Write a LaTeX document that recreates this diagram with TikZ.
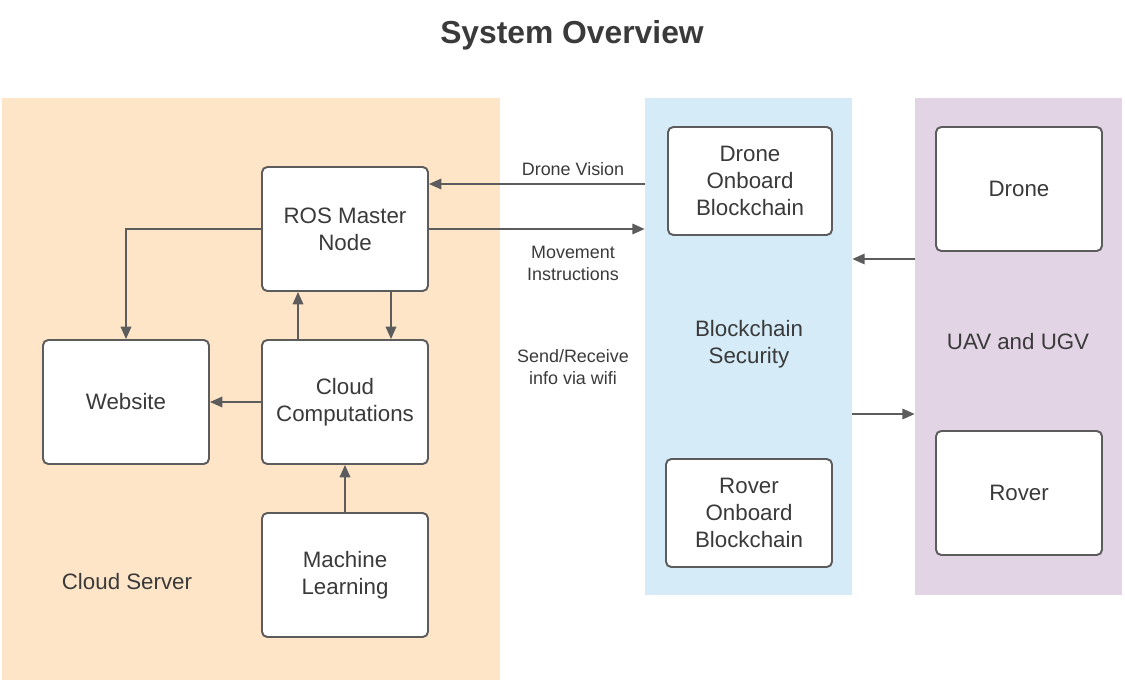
\documentclass[tikz,border=0pt]{standalone}
\usepackage{fontspec}
\setmainfont{Liberation Sans}
\usepackage{xcolor}
\usetikzlibrary{arrows.meta}

\definecolor{serverbg}{HTML}{FFE5C8}
\definecolor{securebg}{HTML}{D5EBF8}
\definecolor{vehiclebg}{HTML}{E2D3E5}
\definecolor{linegray}{HTML}{5C5C5C}
\definecolor{textgray}{HTML}{3A3A3A}

\begin{document}
\begin{tikzpicture}[
    box/.style={draw=linegray, line width=1.1pt, rounded corners=3pt, fill=white,
        align=center, text=textgray, font=\fontsize{12.7}{15.3}\selectfont},
    band/.style={draw=none, inner sep=0pt},
    lbl/.style={align=center, text=textgray, font=\fontsize{12.7}{15.3}\selectfont},
    small/.style={align=center, text=textgray, font=\fontsize{10.2}{12.5}\selectfont},
    arr/.style={draw=linegray, line width=0.9pt, -{Triangle[length=7pt,width=6pt]}}
]
    \useasboundingbox (0,0) rectangle (22.5,-13.6);

    % background areas
    \node[band, fill=serverbg, minimum width=99.6mm, minimum height=116.4mm] (server) at (5.02,-7.78) {};
    \node[band, fill=securebg, minimum width=41.4mm, minimum height=99.4mm] (secure) at (14.97,-6.93) {};
    \node[band, fill=vehiclebg, minimum width=41.4mm, minimum height=99.4mm] (vehicles) at (20.37,-6.93) {};

    \node[text=textgray, font=\fontsize{18.1}{20}\selectfont\bfseries] (title) at (11.44,-0.70) {System Overview};

    % cloud server side
    \node[box, minimum width=33.2mm, minimum height=24.8mm] (ros) at (6.9,-4.58) {ROS Master\\Node};
    \node[box, minimum width=33.2mm, minimum height=24.8mm] (website) at (2.52,-8.04) {Website};
    \node[box, minimum width=33.2mm, minimum height=24.8mm] (cloud) at (6.9,-8.04) {Cloud\\Computations};
    \node[box, minimum width=33.2mm, minimum height=24.8mm] (ml) at (6.9,-11.5) {Machine\\Learning};
    \node[lbl] (serverlbl) at (2.54,-11.64) {Cloud Server};

    % blockchain
    \node[box, minimum width=32.8mm, minimum height=21.6mm] (dronechain) at (15.0,-3.62) {Drone\\Onboard\\Blockchain};
    \node[box, minimum width=33.2mm, minimum height=21.6mm] (roverchain) at (14.98,-10.26) {Rover\\Onboard\\Blockchain};
    \node[lbl] (securelbl) at (14.98,-6.88) {Blockchain\\Security};

    % vehicles
    \node[box, minimum width=33.2mm, minimum height=24.8mm] (drone) at (20.38,-3.78) {Drone};
    \node[box, minimum width=33.2mm, minimum height=24.8mm] (rover) at (20.38,-9.86) {Rover};
    \node[lbl] (vehiclelbl) at (20.36,-6.84) {UAV and UGV};

    % link labels
    \node[small] (visionlbl) at (11.46,-3.38) {Drone Vision};
    \node[small] (movelbl) at (11.46,-5.26) {Movement\\Instructions};
    \node[small] (wifilbl) at (11.46,-7.34) {Send/Receive\\info via wifi};

    \coordinate (visionin) at (secure.west |- 0,-3.68);
    \coordinate (upin) at (vehicles.west |- 0,-5.18);
    \coordinate (upout) at (secure.east |- 0,-5.18);
    \coordinate (downin) at (secure.east |- 0,-8.28);
    \coordinate (downout) at (vehicles.west |- 0,-8.28);

    \draw[arr] (visionin) -- (ros.east |- visionin);
    \draw[arr] (ros.east) -- (secure.west |- ros.east);
    \draw[arr] (ros.west) -| (website.north);
    \draw[arr] ([xshift=-9.4mm]cloud.north) -- ([xshift=-9.4mm]ros.south);
    \draw[arr] ([xshift=9.2mm]ros.south) -- ([xshift=9.2mm]cloud.north);
    \draw[arr] (cloud.west) -- (website.east);
    \draw[arr] (ml.north) -- (cloud.south);
    \draw[arr] (upin) -- (upout);
    \draw[arr] (downin) -- (downout);
\end{tikzpicture}
\end{document}
